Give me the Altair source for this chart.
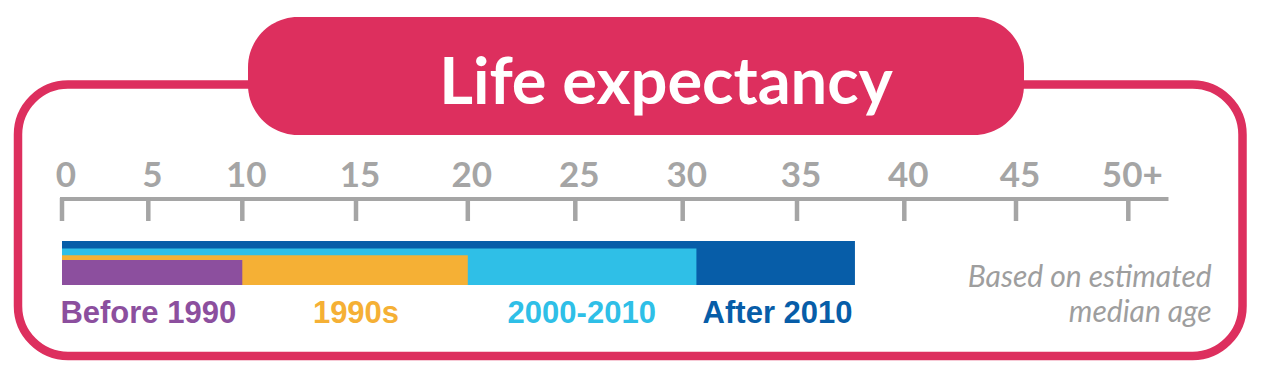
import altair as alt
import pandas as pd

# ---- data ----
PERIODS = ["Before 1990", "1990s", "2000-2010", "After 2010"]
VALUES = [10.0, 20.0, 30.6, 37.7]
TICK_VALUES = [0, 5, 10, 15, 20, 25, 30, 35, 40, 45, 50]
TICK_LABELS = ["0", "5", "10", "15", "20", "25", "30", "35", "40", "45", "50+"]
AXIS_END = 51.7
TITLE = "Life expectancy"
NOTE = ["Based on estimated", "median age"]

# ---- styles ----
COLORS = ["#8C4F9E", "#F5B035", "#2FBFE7", "#075DA8"]
CRIMSON = "#DD2F5E"
GRAY = "#A5A5A5"
NOTE_GRAY = "#9E9E9E"
NARROW = "Lato, 'Liberation Sans', sans-serif"
BOLD = "'Liberation Sans', Arial, sans-serif"

# hand-drawn (piecewise) tick spacing of the original
xscale = alt.Scale(domain=TICK_VALUES,
                   range=[54.0, 140.3, 234.3, 348, 459.8, 567.3, 674.7, 789, 896.3, 1008, 1120.3],
                   nice=False, zero=False)
# bar tops (stair-stepped) by drawing index
yscale = alt.Scale(domain=[0, 1, 2, 3], range=[252, 247.3, 240.5, 233], nice=False, zero=False)
cscale = alt.Scale(domain=PERIODS, range=COLORS)

bars_df = pd.DataFrame({
    "period": PERIODS,
    "value": VALUES,
    "zero": [0.0] * len(VALUES),
    "prev": [0.0] + VALUES[:-1],
    "idx": list(range(len(PERIODS))),
})
bars_df["mid"] = (bars_df["prev"] + bars_df["value"]) / 2

ticks_df = pd.DataFrame({"v": TICK_VALUES, "label": TICK_LABELS})
axis_df = pd.DataFrame({"start": [0.0], "end": [AXIS_END]})
one = pd.DataFrame({"a": [0]})

border = alt.Chart(one).mark_rect(
    cornerRadius=50, fillOpacity=0, stroke=CRIMSON, strokeWidth=8.5
).encode(x=alt.value(10), x2=alt.value(1234.5), y=alt.value(76.5), y2=alt.value(348))

pill = alt.Chart(one).mark_rect(cornerRadius=50, color=CRIMSON).encode(
    x=alt.value(240), x2=alt.value(1016), y=alt.value(9), y2=alt.value(127))

title = alt.Chart(one).mark_text(
    text=TITLE, font=NARROW, fontSize=65, fontWeight="bold", color="white",
    align="center", baseline="alphabetic"
).encode(x=alt.value(658), y=alt.value(96))

axis_line = alt.Chart(axis_df).mark_rule(color=GRAY, strokeWidth=4, strokeCap="square").encode(
    x=alt.X("start:Q", scale=xscale, axis=None), x2="end:Q", y=alt.value(191))

ticks = alt.Chart(ticks_df).mark_rule(color=GRAY, strokeWidth=4.5).encode(
    x=alt.X("v:Q", scale=xscale, axis=None), y=alt.value(190), y2=alt.value(213))

tick_labels = alt.Chart(ticks_df).mark_text(
    font=NARROW, fontSize=35, fontWeight="bold", color=GRAY, align="center",
    baseline="alphabetic", dx=4
).encode(x=alt.X("v:Q", scale=xscale, axis=None), y=alt.value(178.5), text="label:N")

bars = alt.Chart(bars_df).mark_bar().encode(
    x=alt.X("zero:Q", scale=xscale, axis=None),
    x2="value:Q",
    y=alt.Y("idx:Q", scale=yscale, axis=None),
    y2=alt.value(277),
    color=alt.Color("period:N", scale=cscale, legend=None),
    order=alt.Order("idx:Q", sort="descending"),
)

labels = alt.Chart(bars_df).mark_text(
    font=BOLD, fontSize=31, fontWeight="bold", align="center", baseline="alphabetic"
).encode(
    x=alt.X("mid:Q", scale=xscale, axis=None),
    y=alt.value(315),
    text="period:N",
    color=alt.Color("period:N", scale=cscale, legend=None),
)

note1 = alt.Chart(one).mark_text(
    text=NOTE[0], font=NARROW, fontSize=30, fontStyle="italic", color=NOTE_GRAY,
    align="right", baseline="alphabetic"
).encode(x=alt.value(1203.7), y=alt.value(278.7))

note2 = alt.Chart(one).mark_text(
    text=NOTE[1], font=NARROW, fontSize=30, fontStyle="italic", color=NOTE_GRAY,
    align="right", baseline="alphabetic"
).encode(x=alt.value(1203.7), y=alt.value(313.7))

chart = alt.layer(border, pill, title, axis_line, ticks, tick_labels, bars, labels, note1, note2).properties(
    width=1264, height=360,
    autosize=alt.AutoSizeParams(type="none"),
    padding=0,
).configure_view(strokeWidth=0)

chart.save("out.html", embed_options={"renderer": "svg", "actions": False})
